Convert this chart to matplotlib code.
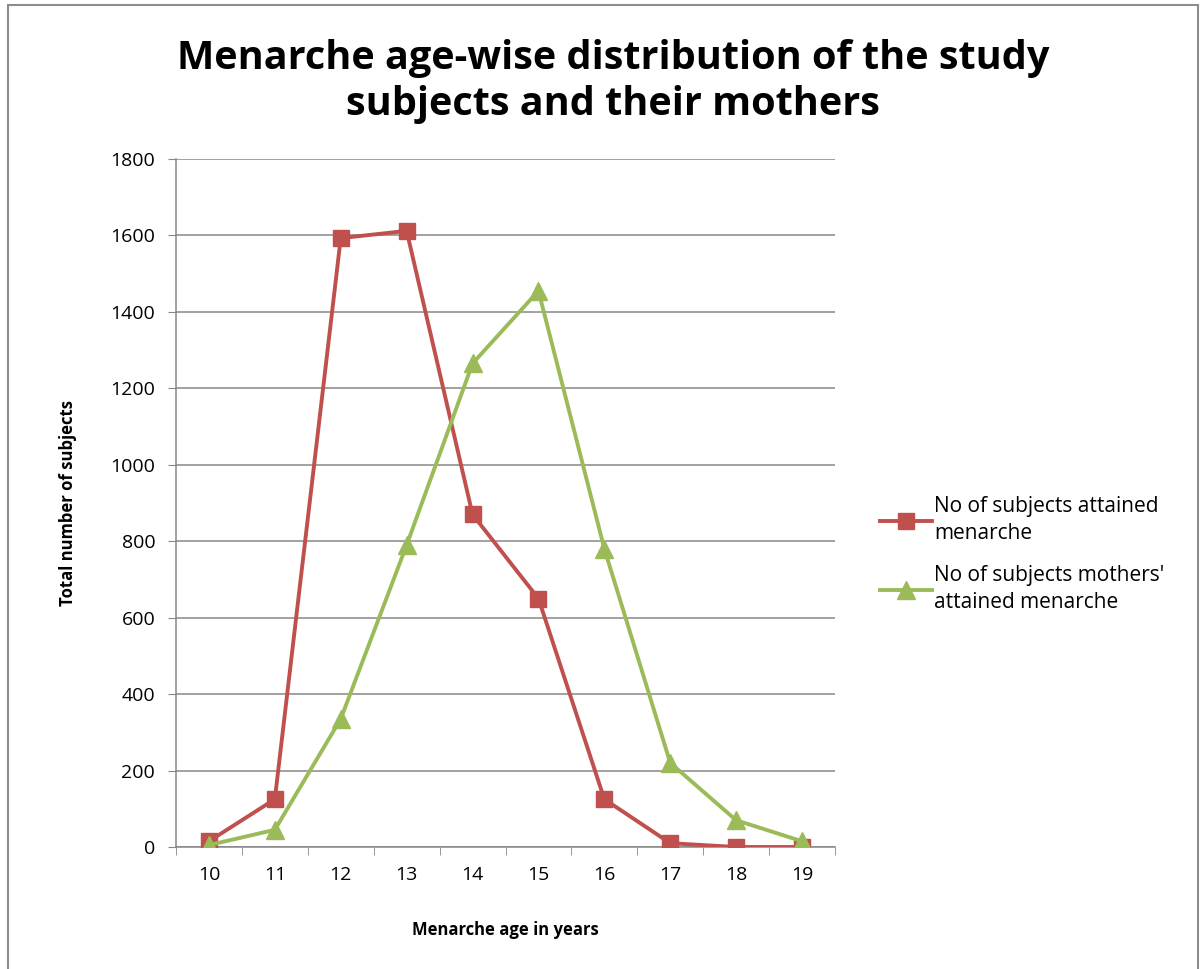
import matplotlib
matplotlib.use("Agg")
import matplotlib.pyplot as plt
import numpy as np
from matplotlib.patches import Rectangle

ages = [10, 11, 12, 13, 14, 15, 16, 17, 18, 19]
subjects = [15, 125, 1593, 1612, 870, 650, 125, 10, 0, 0]
mothers = [5, 45, 335, 790, 1265, 1455, 780, 220, 70, 15]
yticks = [0, 200, 400, 600, 800, 1000, 1200, 1400, 1600, 1800]

red = "#C0504D"
green = "#9BBB59"
grid = "#878787"
font = "Open Sans"

fig = plt.figure(figsize=(12.02, 9.69), dpi=100)
fig.patches.append(Rectangle((0.007, -0.1), 0.99, 1.095, transform=fig.transFigure,
                             fill=False, edgecolor="#8c8c8c", linewidth=1.5))
ax = fig.add_axes([0.1464, 0.1259, 0.5483, 0.71])

ax.plot(ages, subjects, color=red, lw=2.8, marker="s", ms=12, mec=red, mfc=red,
        label="No of subjects attained\nmenarche", zorder=4)
ax.plot(ages, mothers, color=green, lw=2.8, marker="^", ms=13, mec=green, mfc=green,
        label="No of subjects mothers'\nattained menarche", zorder=5)

ax.set_xlim(9.5, 19.5)
ax.set_ylim(0, 1800)
ax.set_yticks(yticks)
ax.set_yticklabels([str(v) for v in yticks], fontsize=14, family=font)
ax.set_xticks(ages)
ax.set_xticklabels([str(a) for a in ages], fontsize=14, family=font)
ax.set_xticks(np.arange(9.5, 20.0, 1.0), minor=True)
ax.tick_params(axis="x", which="major", length=0, pad=14)
ax.tick_params(axis="x", which="minor", length=6, color=grid, direction="out")
ax.tick_params(axis="y", length=6, color=grid, direction="out", pad=9)
ax.grid(axis="y", color=grid, lw=1.1)
ax.set_axisbelow(True)
for s in ["top", "right"]:
    ax.spines[s].set_visible(False)
for s in ["left", "bottom"]:
    ax.spines[s].set_color(grid)
    ax.spines[s].set_linewidth(1.1)

ax.set_xlabel("Menarche age in years", fontsize=12, fontweight="bold", family=font, labelpad=26)
ax.set_ylabel("Total number of subjects", fontsize=12, fontweight="bold", family=font, labelpad=24)

fig.text(0.51, 0.916, "Menarche age-wise distribution of the study\nsubjects and their mothers",
         ha="center", va="center", fontsize=28.5, fontweight="bold", family=font, linespacing=1.25)

leg = ax.legend(loc="center left", bbox_to_anchor=(1.055, 0.425), frameon=False,
                prop={"family": font, "size": 15}, handlelength=2.5, handletextpad=0.1,
                labelspacing=1.0, borderaxespad=0)
for t in leg.get_texts():
    t.set_linespacing(1.4)

fig.savefig("out.png", dpi=100)
